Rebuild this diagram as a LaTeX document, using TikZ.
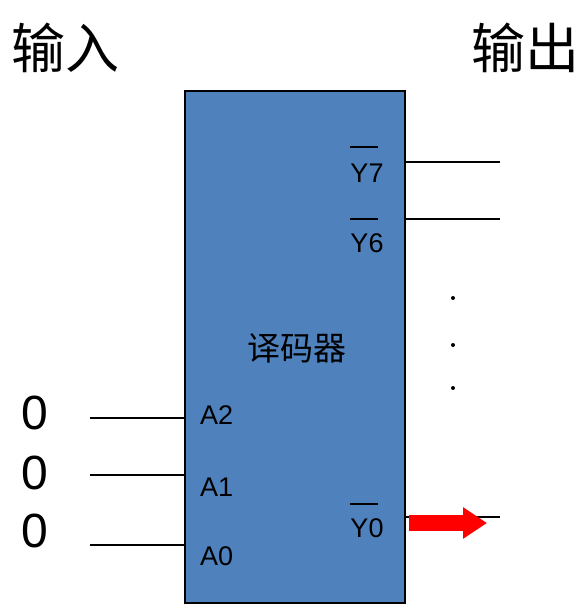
\documentclass[tikz,border=0pt]{standalone}
\usepackage{fontspec}
\setmainfont{Liberation Sans}
\newfontfamily\cjk{Noto Sans CJK SC}
\usetikzlibrary{arrows.meta, positioning, calc}

\begin{document}
\begin{tikzpicture}[x=1pt, y=-1pt, >=Stealth]
    \tikzset{decbox/.style={draw, line width=1.5pt, fill={rgb,255:red,79;green,129;blue,189}, minimum width=220pt, minimum height=512pt, inner sep=0pt, outer sep=0pt},
             pin/.style={font=\fontsize{27}{27}\selectfont, inner sep=0pt},
             bit/.style={font=\fontsize{48}{48}\selectfont, inner sep=0pt},
             title/.style={font=\cjk\fontsize{54}{54}\selectfont, inner sep=0pt},
             wire/.style={line width=1.2pt},
             bar/.style={line width=1.2pt}}
    \useasboundingbox (0,0) rectangle (587,610);
    % decoder block
    \node[decbox] (dec) at (295,347) {};
    \node[font=\cjk\fontsize{33}{33}\selectfont, inner sep=0pt] (name) at (297,348) {译码器};
    \node[title] (in) at (65,48) {输入};
    \node[title] (out) at (525,48) {输出};
    % inputs
    \node[bit] (b2) at (35,413) {0};
    \node[bit] (b1) at (35,473) {0};
    \node[bit] (b0) at (35,531) {0};
    \coordinate (a2in) at (90,418);
    \coordinate (a1in) at (90,475);
    \coordinate (a0in) at (90,545);
    \draw[wire] (a2in) -- (dec.west |- a2in);
    \draw[wire] (a1in) -- (dec.west |- a1in);
    \draw[wire] (a0in) -- (dec.west |- a0in);
    \node[pin, anchor=west] (a2) at (200,415) {A2};
    \node[pin, anchor=west] (a1) at (200,487) {A1};
    \node[pin, anchor=west] (a0) at (200,556) {A0};
    % outputs
    \node[pin] (y7) at (367,173) {Y7};
    \node[pin] (y6) at (367,243) {Y6};
    \node[pin] (y0) at (367,528) {Y0};
    \draw[bar] (350,147) -- (378,147);
    \draw[bar] (350,219) -- (378,219);
    \draw[bar] (350,504) -- (378,504);
    \coordinate (y7out) at (500,162);
    \coordinate (y6out) at (500,219);
    \coordinate (y0out) at (500,517);
    \draw[wire] (dec.east |- y7out) -- (y7out);
    \draw[wire] (dec.east |- y6out) -- (y6out);
    \draw[wire] (dec.east |- y0out) -- (y0out);
    \foreach \yy in {298,345,388}
        \fill (453,\yy) circle (2);
    % active output
    \coordinate (tail) at (409,523);
    \coordinate (tip) at (487,523);
    \draw[red, line width=16pt, line join=round, -{Triangle[length=24pt, width=30pt]}] (tail) -- (tip);
\end{tikzpicture}
\end{document}
